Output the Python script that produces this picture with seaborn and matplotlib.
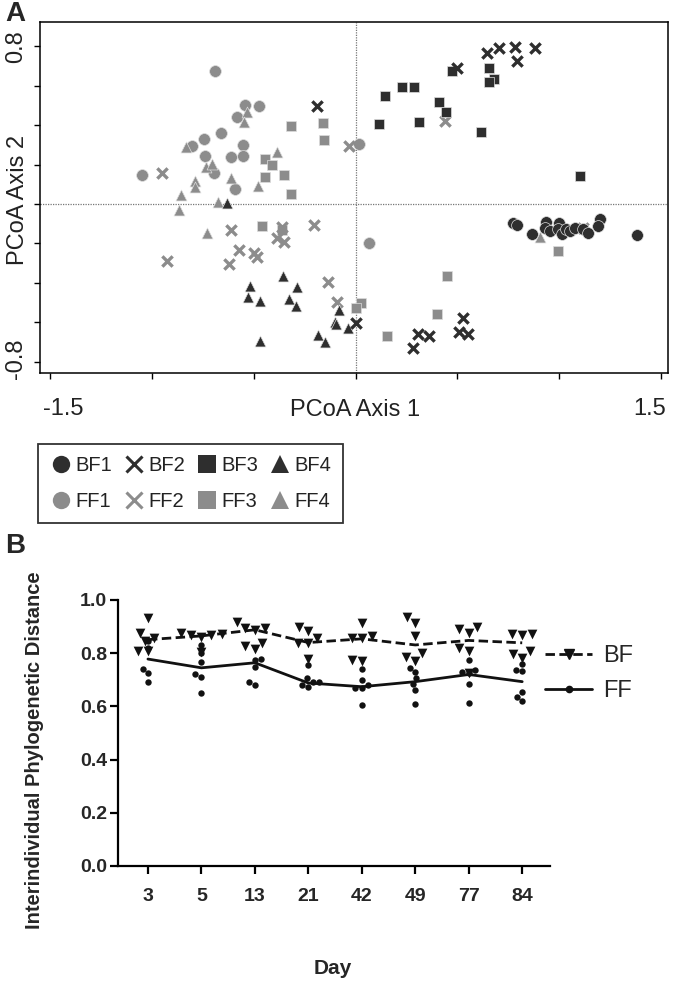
import numpy as np
import pandas as pd
import matplotlib
matplotlib.use("Agg")
import matplotlib.pyplot as plt
import matplotlib.transforms as mtransforms
import seaborn as sns
from matplotlib.lines import Line2D

# ---------------- Panel A data (PCoA coordinates) ----------------
bf1_x = [0.775, 0.791, 0.865, 0.935, 0.930, 0.955, 0.999, 0.996, 1.012, 1.033, 1.053, 1.078, 1.119, 1.143, 1.200, 1.192, 1.383]
bf1_y = [-0.098, -0.107, -0.152, -0.090, -0.123, -0.137, -0.098, -0.128, -0.152, -0.127, -0.136, -0.123, -0.127, -0.146, -0.078, -0.112, -0.159]
bf2_x = [0.647, 0.704, 0.782, 0.883, 0.794, 0.500, -0.188, 0.529, 0.510, 0.554, 0.305, 0.359, 0.281, 0.002]
bf2_y = [0.765, 0.790, 0.798, 0.790, 0.726, 0.689, 0.497, -0.580, -0.648, -0.660, -0.660, -0.670, -0.729, -0.606]
bf3_x = [0.475, 0.654, 0.681, 0.655, 0.227, 0.287, 0.146, 0.411, 0.446, 0.115, 0.310, 0.615, 1.102]
bf3_y = [0.675, 0.689, 0.633, 0.619, 0.592, 0.595, 0.550, 0.519, 0.465, 0.405, 0.415, 0.364, 0.144]
bf4_x = [-0.632, -0.356, -0.518, -0.286, -0.526, -0.470, -0.325, -0.294, -0.082, -0.101, -0.096, -0.038, -0.183, -0.148, -0.469]
bf4_y = [0.007, -0.364, -0.415, -0.423, -0.474, -0.491, -0.484, -0.516, -0.538, -0.597, -0.611, -0.628, -0.666, -0.699, -0.695]
ff1_x = [-0.691, -0.541, -0.474, -0.582, -0.659, -0.745, -0.804, -0.551, -0.739, -0.613, -0.551, -1.047, -0.693, -0.590, 0.017, 0.065]
ff1_y = [0.674, 0.501, 0.499, 0.443, 0.362, 0.330, 0.293, 0.299, 0.244, 0.240, 0.245, 0.149, 0.159, 0.078, 0.303, -0.198]
ff2_x = [-0.953, -0.030, 0.438, -0.611, -0.204, -0.573, -0.497, -0.484, -0.622, -0.927, -0.385, -0.352, -0.361, -0.136, -0.089, 1.118]
ff2_y = [0.156, 0.294, 0.423, -0.130, -0.105, -0.235, -0.250, -0.268, -0.303, -0.288, -0.173, -0.191, -0.115, -0.397, -0.497, -0.123]
ff3_x = [-0.315, -0.161, -0.155, -0.443, -0.408, -0.352, -0.443, -0.317, -0.459, -0.362, 0.996, 0.448, 0.027, 0.002, 0.400, 0.156]
ff3_y = [0.397, 0.410, 0.325, 0.230, 0.196, 0.149, 0.136, 0.049, -0.113, -0.132, -0.239, -0.365, -0.501, -0.526, -0.557, -0.670]
ff4_x = [-0.534, -0.546, -0.834, -0.384, -0.735, -0.704, -0.610, -0.791, -0.791, -0.477, -0.855, -0.674, -0.868, -0.732, 0.904]
ff4_y = [0.469, 0.415, 0.288, 0.265, 0.186, 0.202, 0.130, 0.118, 0.088, 0.093, 0.047, 0.012, -0.030, -0.149, -0.166]

group_names = ["BF1", "BF2", "BF3", "BF4", "FF1", "FF2", "FF3", "FF4"]

# ---------------- Panel B data ----------------
days = ["3", "5", "13", "21", "42", "49", "77", "84"]
bf_values = [
    [0.845, 0.931, 0.877, 0.810, 0.859, 0.810],
    [0.874, 0.862, 0.805, 0.877, 0.868, 0.870],
    [0.917, 0.894, 0.888, 0.896, 0.840, 0.828, 0.814],
    [0.840, 0.883, 0.837, 0.779, 0.900, 0.856],
    [0.856, 0.914, 0.856, 0.866, 0.771, 0.773],
    [0.799, 0.915, 0.863, 0.771, 0.937, 0.787],
    [0.898, 0.820, 0.877, 0.808, 0.891, 0.726],
    [0.872, 0.808, 0.868, 0.783, 0.874, 0.798],
]
ff_values = [
    [0.845, 0.820, 0.740, 0.724, 0.690],
    [0.830, 0.800, 0.768, 0.722, 0.712, 0.651],
    [0.776, 0.780, 0.749, 0.679, 0.692],
    [0.754, 0.691, 0.705, 0.673, 0.691, 0.679],
    [0.739, 0.699, 0.671, 0.671, 0.679, 0.607],
    [0.743, 0.729, 0.705, 0.683, 0.660, 0.610],
    [0.775, 0.729, 0.724, 0.735, 0.686, 0.614],
    [0.760, 0.733, 0.735, 0.653, 0.636, 0.619],
]
bf_line = [0.851, 0.865, 0.888, 0.840, 0.854, 0.831, 0.848, 0.839]
ff_line = [0.778, 0.745, 0.764, 0.688, 0.674, 0.693, 0.720, 0.693]

# ---------------- style ----------------
sns.set_theme(style="white")
plt.rcParams["font.family"] = ["Liberation Sans", "DejaVu Sans"]
DARK = "#2e2e2e"
GRAY = "#8c8c8c"
TXT = "#222222"

fig = plt.figure(figsize=(6.75, 9.83), dpi=100)
W, H = 675.0, 983.0


def shift(label, dx_px, dy_px):
    label.set_transform(label.get_transform() +
                        mtransforms.ScaledTranslation(dx_px / 100, dy_px / 100, fig.dpi_scale_trans))


# ================= Panel A =================
axA = fig.add_axes([40 / W, 1 - 373 / H, 628 / W, 351 / H])
coords = {
    "BF1": (bf1_x, bf1_y), "BF2": (bf2_x, bf2_y), "BF3": (bf3_x, bf3_y), "BF4": (bf4_x, bf4_y),
    "FF1": (ff1_x, ff1_y), "FF2": (ff2_x, ff2_y), "FF3": (ff3_x, ff3_y), "FF4": (ff4_x, ff4_y),
}
marker_of = {"1": "o", "2": "x", "3": "s", "4": "^"}
size_of = {"1": 72, "2": 55, "3": 60, "4": 62}
axA.axhline(0, color="#777777", lw=0.9, ls=(0, (1, 1)), zorder=0)
axA.axvline(0, color="#777777", lw=0.9, ls=(0, (1, 1)), zorder=0)
for g in ["FF1", "FF4", "FF3", "FF2", "BF1", "BF4", "BF3", "BF2"]:
    xs, ys = coords[g]
    df = pd.DataFrame({"x": xs, "y": ys})
    col = DARK if g.startswith("BF") else GRAY
    m = marker_of[g[-1]]
    if m == "x":
        sns.scatterplot(data=df, x="x", y="y", marker="x", color=col, s=size_of[g[-1]],
                        linewidth=2.4, ax=axA, legend=False, zorder=3)
    else:
        sns.scatterplot(data=df, x="x", y="y", marker=m, color=col, s=size_of[g[-1]],
                        edgecolor="#dddddd", linewidth=0.5, ax=axA, legend=False, zorder=3)

axA.set_xlim(-1.55, 1.535)
axA.set_ylim(-0.858, 0.924)
axA.set_xticks(np.arange(-1.5, 1.51, 0.5))
axA.set_xticklabels(["-1.5", "", "", "", "", "", "1.5"])
axA.set_yticks(np.arange(-0.8, 0.81, 0.2))
axA.set_yticklabels(["-0.8", "", "", "", "", "", "", "", "0.8"], rotation=90, va="center")
axA.tick_params(axis="both", direction="out", length=4, width=1, color="black",
                labelsize=17, labelcolor=TXT, bottom=True, left=True, pad=5)
axA.tick_params(axis="x", pad=14)
xl = axA.get_xticklabels()
shift(xl[0], 13, 0)
shift(xl[-1], -11, 0)
yl = axA.get_yticklabels()
shift(yl[0], 0, 3)
shift(yl[-1], 0, 0)
for sp in axA.spines.values():
    sp.set_visible(True)
    sp.set_color("black")
    sp.set_linewidth(1.1)
axA.set_xlabel("")
axA.set_ylabel("")
fig.text(355 / W, 1 - 410 / H, "PCoA Axis 1", ha="center", va="center", fontsize=17, color=TXT)
fig.text(18 / W, 1 - 200 / H, "PCoA Axis 2", ha="center", va="center", rotation=90, fontsize=17, color=TXT)
fig.text(5 / W, 1 - 14 / H, "A", ha="left", va="center", fontsize=20, fontweight="bold")

# legend of panel A (row-wise order BF row then FF row)
handles = {}
for g in group_names:
    col = DARK if g.startswith("BF") else GRAY
    m = marker_of[g[-1]]
    if m == "x":
        handles[g] = Line2D([], [], ls="", marker="x", color=col, markersize=12, markeredgewidth=2.2)
    else:
        handles[g] = Line2D([], [], ls="", marker=m, color=col, markersize=12.5, markeredgewidth=0)
order = ["BF1", "FF1", "BF2", "FF2", "BF3", "FF3", "BF4", "FF4"]
legA = fig.legend([handles[g] for g in order], order, ncol=4, loc="upper left",
                  bbox_to_anchor=(38 / W, 1 - 444 / H), borderaxespad=0, frameon=True, fancybox=False,
                  edgecolor="black", fontsize=14.5, handletextpad=0.15, columnspacing=0.55,
                  handlelength=1.1, borderpad=0.6, labelspacing=0.85)
legA.get_frame().set_linewidth(1.3)
for t in legA.get_texts():
    t.set_color(TXT)

# ================= Panel B =================
axB = fig.add_axes([118 / W, 1 - 866 / H, 432 / W, 266 / H])
bf_df = pd.DataFrame({"day": [d for d, v in zip(days, bf_values) for _ in v],
                      "value": [x for v in bf_values for x in v]})
ff_df = pd.DataFrame({"day": [d for d, v in zip(days, ff_values) for _ in v],
                      "value": [x for v in ff_values for x in v]})
sns.swarmplot(data=bf_df, x="day", y="value", order=days, marker="v", color="#111111",
              size=7, linewidth=0, ax=axB, zorder=3)
sns.swarmplot(data=ff_df, x="day", y="value", order=days, marker="o", color="#111111",
              size=4.6, linewidth=0, ax=axB, zorder=3)
pos = np.arange(len(days))
sns.lineplot(x=pos, y=bf_line, color="#111111", lw=2, ax=axB, zorder=2)
sns.lineplot(x=pos, y=ff_line, color="#111111", lw=2, ax=axB, zorder=2)
DASH = (0, (3.4, 1.6))
axB.lines[0].set_linestyle(DASH)

axB.set_xlim(-0.56, 7.52)
axB.set_ylim(0, 1.0)
axB.set_yticks(np.arange(0, 1.01, 0.2))
axB.set_yticklabels([f"{v:.1f}" for v in np.arange(0, 1.01, 0.2)])
axB.set_xticks(pos)
axB.set_xticklabels(days)
for sp in ["top", "right"]:
    axB.spines[sp].set_visible(False)
for sp in ["left", "bottom"]:
    axB.spines[sp].set_color("black")
    axB.spines[sp].set_linewidth(1.6)
axB.tick_params(axis="both", direction="out", length=6, width=1.6, color="black",
                labelsize=14, bottom=True, left=True, pad=2)
axB.tick_params(axis="x", pad=10)
for lab in axB.get_xticklabels() + axB.get_yticklabels():
    lab.set_fontweight("bold")
axB.set_xlabel("")
axB.set_ylabel("")
fig.text(333 / W, 1 - 968 / H, "Day", ha="center", va="center", fontsize=15, fontweight="bold")
fig.text(35 / W, 1 - 750 / H, "Interindividual Phylogenetic Distance", ha="center", va="center",
         rotation=90, fontsize=14.5, fontweight="bold")
fig.text(5 / W, 1 - 546 / H, "B", ha="left", va="center", fontsize=20, fontweight="bold")

hB = [Line2D([], [], color="#111111", lw=2, ls=DASH, marker="v", markersize=7.5),
      Line2D([], [], color="#111111", lw=2, ls="-", marker="o", markersize=4.5)]
legB = fig.legend(hB, ["BF", "FF"], loc="upper left", bbox_to_anchor=(545 / W, 1 - 645 / H),
                  borderaxespad=0, borderpad=0, frameon=False, fontsize=17, handlelength=2.0,
                  handletextpad=0.45, labelspacing=0.55)

fig.savefig("out.png", dpi=100)
